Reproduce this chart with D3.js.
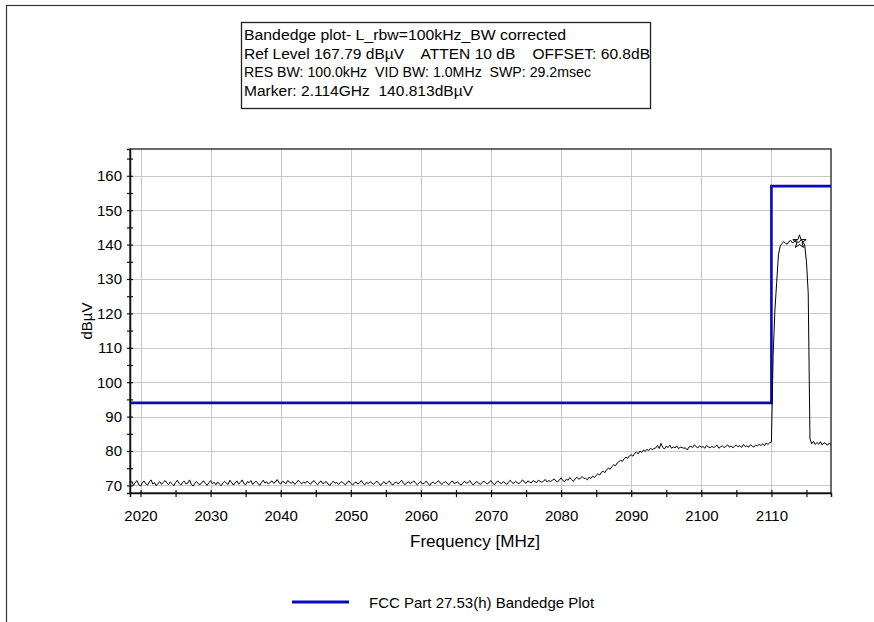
<!DOCTYPE html>
<html>
<head>
<meta charset="utf-8">
<script src="https://cdn.jsdelivr.net/npm/d3@7"></script>
<style>
  body { margin: 0; background: #fff; }
  svg { display: block; }
  text { font-family: "Liberation Sans", Arial, sans-serif; fill: #000; }
</style>
</head>
<body>
<svg id="chart" width="874" height="622"></svg>
<script>
// Sweep settings of the analyzer trace (one reading every 0.25 MHz)
const sweepStartMHz = 2018.5;
const sweepStepMHz = 0.25;

// Measured trace levels in dBµV, 20 readings per 5 MHz row
const traceLevels = [
  70.3, 71.2, 70.0, 70.9, 71.4, 70.2, 69.8, 70.7, 71.3, 70.5, 70.1, 71.0, 71.6, 70.4, 70.8, 69.9, 70.6, 71.1, 70.3, 70.9,
  71.4, 70.7, 70.2, 71.0, 70.5, 69.9, 70.8, 71.5, 70.6, 70.1, 70.9, 71.2, 70.4, 70.7, 71.6, 70.3, 69.8, 70.6, 71.1, 70.5,
  70.2, 70.9, 71.3, 70.6, 70.0, 70.8, 71.4, 70.5, 70.9, 70.2, 71.0, 70.4, 69.9, 70.7, 71.2, 70.6, 70.3, 71.5, 70.8, 70.1,
  70.7, 71.3, 70.4, 70.9, 71.6, 70.5, 70.2, 71.1, 70.8, 71.4, 70.3, 70.9, 71.2, 70.6, 70.0, 70.8, 71.5, 70.7, 71.0, 70.4,
  70.9, 71.3, 70.6, 71.0, 71.7, 70.8, 70.4, 71.2, 70.9, 70.5, 71.4, 71.0, 70.6, 71.1, 70.3, 70.8, 71.5, 70.9, 70.4, 71.0,
  70.6, 71.2, 70.8, 70.3, 71.0, 71.4, 70.7, 70.2, 70.9, 71.3, 70.5, 70.8, 71.1, 70.4, 70.0, 70.7, 71.2, 70.6, 70.9, 70.3,
  70.8, 71.1, 70.5, 70.2, 70.9, 71.3, 70.6, 70.1, 70.7, 71.0, 70.4, 70.8, 71.4, 70.6, 70.2, 70.9, 70.5, 71.1, 70.7, 70.3,
  70.9, 71.2, 70.6, 70.0, 70.7, 71.1, 70.4, 70.8, 71.3, 70.5, 70.1, 70.8, 71.0, 70.4, 70.9, 71.5, 70.6, 70.2, 70.8, 71.0,
  70.5, 70.9, 71.3, 70.6, 70.2, 70.8, 71.1, 70.4, 70.7, 71.2, 70.6, 70.0, 70.7, 71.0, 70.5, 70.9, 71.4, 70.7, 70.3, 70.8,
  71.1, 70.6, 70.2, 70.9, 71.3, 70.5, 70.8, 71.0, 70.4, 70.1, 70.8, 71.2, 70.6, 70.9, 71.4, 70.5, 70.2, 70.8, 71.1, 70.6,
  70.3, 70.9, 71.2, 70.7, 70.4, 71.0, 71.4, 70.6, 70.2, 70.9, 71.3, 70.8, 70.5, 71.1, 70.7, 70.3, 71.0, 71.5, 70.8, 70.6,
  71.2, 70.8, 70.5, 71.1, 71.6, 70.9, 70.6, 71.3, 71.0, 70.7, 71.4, 71.1, 70.8, 71.5, 71.2, 70.9, 71.3, 71.7, 71.0, 71.4,
  71.1, 71.5, 71.9, 71.3, 71.0, 71.6, 72.2, 71.4, 71.1, 71.8, 71.5, 72.3, 71.7, 71.2, 71.9, 72.4, 71.8, 72.1, 72.6, 72.0,
  72.1, 71.6, 72.4, 72.0, 72.7, 72.3, 72.9, 73.4, 73.0, 73.8, 74.1, 73.7, 74.6, 75.0, 74.7, 75.5, 76.0, 75.7, 76.5, 76.9,
  77.3, 77.0, 77.8, 78.2, 77.9, 78.6, 78.9, 78.5, 79.3, 79.7, 79.2, 80.0, 79.6, 80.3, 79.9, 80.5, 80.1, 80.8, 80.4, 80.7,
  80.9, 81.6, 80.7, 82.2, 81.0, 80.6, 81.4, 81.0, 81.7, 80.8, 81.2, 80.9, 81.5, 80.7, 81.1, 81.0, 80.8, 80.9, 80.3, 81.2,
  81.4, 81.0, 81.8, 81.3, 80.9, 81.5, 81.1, 81.3, 80.8, 81.6, 81.2, 80.9, 81.4, 81.0, 81.3, 81.7, 80.8, 81.2, 81.5, 81.0,
  81.3, 81.8, 81.1, 81.5, 80.9, 81.4, 81.7, 81.2, 81.6, 81.0, 81.9, 81.3, 81.5, 81.1, 81.8, 81.4, 81.2, 81.7, 81.5, 81.9,
  81.6, 82.1, 81.5, 82.3, 81.9, 82.4, 82.6, 108.0, 121.0, 129.0, 137.0, 139.6, 140.3, 140.9, 140.4, 140.1, 140.9, 141.2, 140.5, 140.8,
  141.3, 140.6, 140.8, 141.5, 140.7, 139.9, 135.0, 126.0, 83.5, 82.1, 82.8, 81.9, 82.5, 82.0, 82.7, 81.8, 82.4, 82.1, 81.7, 82.3,
  81.9
];

// FCC Part 27.53(h) limit mask
const limitFreqs = [2018.5, 2110, 2110, 2118.5];
const limitLevels = [94, 94, 157, 157];

// Marker reading
const markerFreq = 2114;
const markerLevel = 140.813;

// Axis ranges and ticks
const freqRange = [2018.5, 2118.5];
const levelRange = [67.79, 167.79];
const xTickLabels = [2020, 2030, 2040, 2050, 2060, 2070, 2080, 2090, 2100, 2110];
const xMinorTicks = [2025, 2035, 2045, 2055, 2065, 2075, 2085, 2095, 2105, 2115];
const yTickLabels = [70, 80, 90, 100, 110, 120, 130, 140, 150, 160];
const yMinorTicks = [75, 85, 95, 105, 115, 125, 135, 145, 155, 165];

// Instrument settings box
const headerLines = [
  "Bandedge plot- L_rbw=100kHz_BW corrected",
  "Ref Level 167.79 dBµV    ATTEN 10 dB    OFFSET: 60.8dB",
  "RES BW: 100.0kHz  VID BW: 1.0MHz  SWP: 29.2msec",
  "Marker: 2.114GHz  140.813dBµV"
];
const headerWidths = [322, 406, 347, 229];
const legendLabel = "FCC Part 27.53(h) Bandedge Plot";

const svg = d3.select("#chart");
const plot = { left: 130, top: 149, right: 831, bottom: 493 };

// Outer frame
svg.append("rect")
  .attr("x", 6.5).attr("y", 5.5).attr("width", 900).attr("height", 700)
  .attr("fill", "none").attr("stroke", "#333").attr("stroke-width", 1.2);

// Settings box
const box = svg.append("g");
box.append("rect")
  .attr("x", 241.5).attr("y", 22.5).attr("width", 409).attr("height", 86)
  .attr("fill", "#fff").attr("stroke", "#222").attr("stroke-width", 1.3);
box.selectAll("text").data(headerLines).join("text")
  .attr("x", 244)
  .attr("y", (d, i) => 40 + i * 18.6)
  .attr("font-size", 14)
  .attr("textLength", (d, i) => headerWidths[i])
  .attr("lengthAdjust", "spacingAndGlyphs")
  .style("white-space", "pre")
  .text(d => d);

const x = d3.scaleLinear().domain(freqRange).range([plot.left, plot.right]);
const y = d3.scaleLinear().domain(levelRange).range([plot.bottom, plot.top]);

// Grid
const grid = svg.append("g").attr("stroke", "#c8c8c8").attr("stroke-width", 1);
grid.selectAll("line.v").data(xTickLabels).join("line")
  .attr("class", "v")
  .attr("x1", d => Math.round(x(d)) + 0.5).attr("x2", d => Math.round(x(d)) + 0.5)
  .attr("y1", plot.top).attr("y2", plot.bottom);
grid.selectAll("line.h").data(yTickLabels).join("line")
  .attr("class", "h")
  .attr("y1", d => Math.round(y(d)) + 0.5).attr("y2", d => Math.round(y(d)) + 0.5)
  .attr("x1", plot.left).attr("x2", plot.right);

// Plot frame
svg.append("rect")
  .attr("x", plot.left).attr("y", plot.top)
  .attr("width", plot.right - plot.left).attr("height", plot.bottom - plot.top)
  .attr("fill", "none").attr("stroke", "#3a3a3a").attr("stroke-width", 1.5);

svg.append("clipPath").attr("id", "plotClip")
  .append("rect")
  .attr("x", plot.left).attr("y", plot.top)
  .attr("width", plot.right - plot.left).attr("height", plot.bottom - plot.top);

const layer = svg.append("g").attr("clip-path", "url(#plotClip)");

// Limit mask
const limitLine = d3.line().x(d => x(d[0])).y(d => y(d[1]));
layer.append("path")
  .datum(limitFreqs.map((f, i) => [f, limitLevels[i]]))
  .attr("d", limitLine)
  .attr("fill", "none").attr("stroke", "#0a0ab4").attr("stroke-width", 2.6);

// Measured trace
const traceLine = d3.line()
  .x((d, i) => x(sweepStartMHz + i * sweepStepMHz))
  .y(d => y(d));
layer.append("path")
  .datum(traceLevels)
  .attr("d", traceLine)
  .attr("fill", "none").attr("stroke", "#000").attr("stroke-width", 1)
  .attr("stroke-linejoin", "round");

// Marker
layer.append("path")
  .attr("d", d3.symbol(d3.symbolStar, 55)())
  .attr("transform", `translate(${x(markerFreq)},${y(markerLevel)})`)
  .attr("fill", "none").attr("stroke", "#000").attr("stroke-width", 1);

// Axes
const yAxis = d3.axisLeft(y)
  .tickValues(yTickLabels.concat(yMinorTicks))
  .tickFormat(d => yTickLabels.includes(d) ? d : "")
  .tickSize(3).tickPadding(5);
const gy = svg.append("g").attr("transform", `translate(${plot.left},0)`).call(yAxis);
gy.select(".domain").attr("stroke", "#111").attr("stroke-width", 1.5);
gy.selectAll(".tick line").attr("x1", 3).attr("stroke", "#111").attr("stroke-width", 1.2);
gy.selectAll(".tick text").attr("font-size", 15).attr("fill", "#000")
  .attr("font-family", "Liberation Sans, Arial, sans-serif");

const xAxis = d3.axisBottom(x)
  .tickValues(xTickLabels.concat(xMinorTicks))
  .tickFormat(d => xTickLabels.includes(d) ? d : "")
  .tickSize(4).tickPadding(13);
const gx = svg.append("g").attr("transform", `translate(0,${plot.bottom})`).call(xAxis);
gx.select(".domain").attr("stroke", "#111").attr("stroke-width", 1.5);
gx.selectAll(".tick line").attr("y1", -3).attr("stroke", "#111").attr("stroke-width", 1.2);
gx.selectAll(".tick text").attr("font-size", 15).attr("fill", "#000")
  .attr("font-family", "Liberation Sans, Arial, sans-serif");

// Axis titles
svg.append("text")
  .attr("x", 475).attr("y", 547)
  .attr("text-anchor", "middle").attr("font-size", 16)
  .attr("textLength", 130).attr("lengthAdjust", "spacingAndGlyphs")
  .text("Frequency [MHz]");
svg.append("text")
  .attr("transform", `translate(92,${(plot.top + plot.bottom) / 2}) rotate(-90)`)
  .attr("text-anchor", "middle").attr("font-size", 15)
  .text("dBµV");

// Legend
const legend = svg.append("g");
legend.append("line")
  .attr("x1", 292).attr("x2", 349).attr("y1", 602).attr("y2", 602)
  .attr("stroke", "#0a0ab4").attr("stroke-width", 3);
legend.append("text")
  .attr("x", 369).attr("y", 608).attr("font-size", 15)
  .text(legendLabel);
</script>
</body>
</html>
